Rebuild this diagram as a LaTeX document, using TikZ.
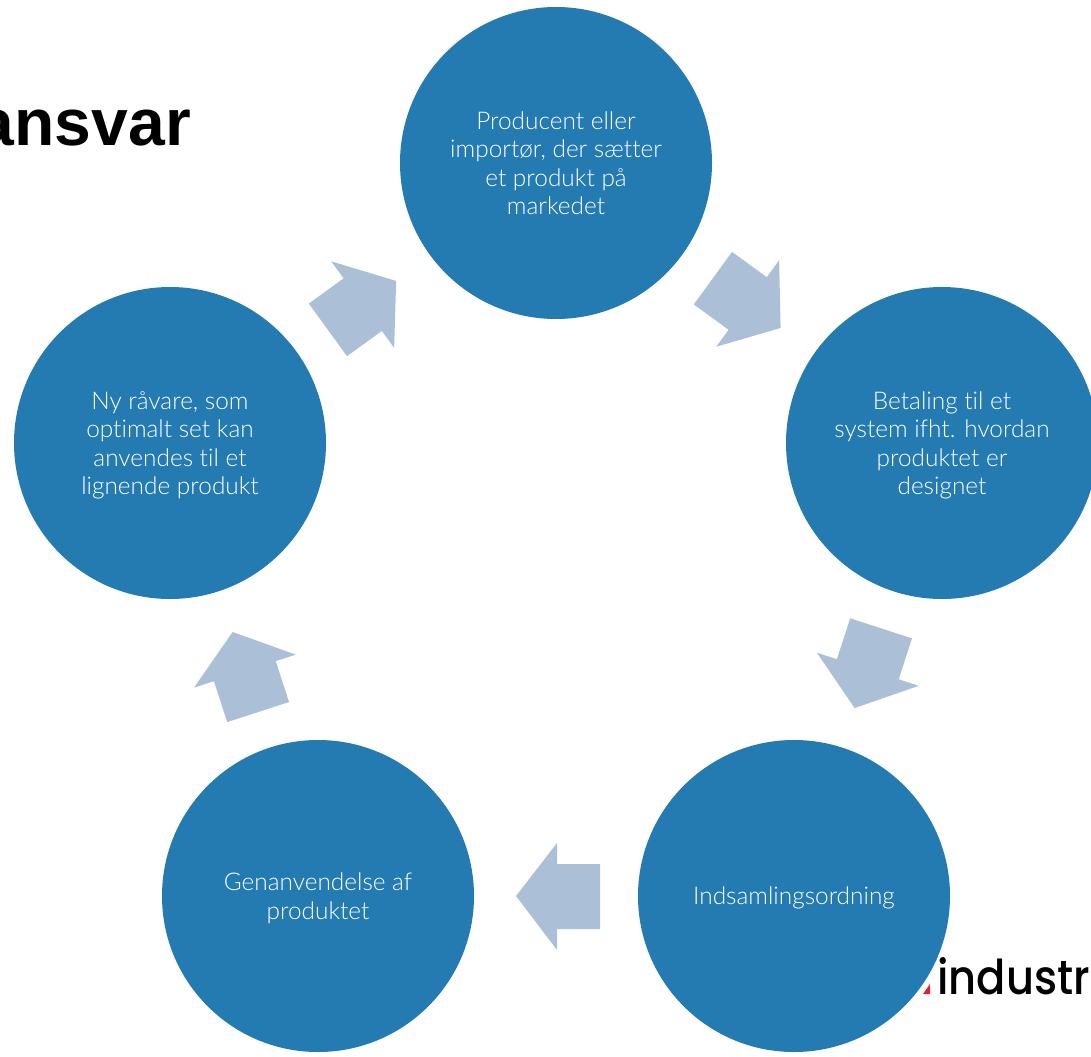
\documentclass[tikz,border=0pt]{standalone}
\usepackage{fontspec}
\setmainfont{Lato Light}[Ligatures=NoCommon]
\newfontfamily\titlefont{Liberation Sans}
\newfontfamily\logofont{Poppins Medium}[FakeStretch=0.9]
\usepackage{tikz}
\usetikzlibrary{positioning}

\definecolor{circleblue}{HTML}{237BB2}
\definecolor{arrowblue}{HTML}{ABC0D7}
\definecolor{logored}{HTML}{E5202E}

\tikzset{
  stage/.style={circle, fill=circleblue, text=white, minimum size=234pt, inner sep=0pt, align=center,
    text depth=0pt, font=\fontsize{18.3}{21.4}\selectfont},
  blockarrow/.style={fill=arrowblue, draw=none}
}

\begin{document}
\begin{tikzpicture}[x=0.75pt, y=-0.75pt]
\useasboundingbox (0,0) rectangle (1091,1056);

% Cut-off heading and logo behind the circles

\node[inner sep=0pt, anchor=base east, font=\titlefont\bfseries\fontsize{49.5}{49.5}\selectfont] (title) at (191,145) {ansvar};
\fill[logored] (923,994) -- (930,984) -- (930,994) -- cycle;
\node[inner sep=0pt, anchor=base west, font=\logofont\fontsize{36}{36}\selectfont] (logo) at (937,994) {industr};

% Five block arrows, one turned copy per gap

\foreach \turn in {0,72,144,216,288}
  \fill[blockarrow, rotate around={\turn:(556,569)}]
    (516,896) -- (557,843) -- (557,864) -- (600,864) -- (600,929) -- (557,929) -- (557,950) -- cycle;

\node[stage] (producent) at (556,163) {Producent eller\\importør, der sætter\\et produkt på\\markedet};
\node[stage] (betaling) at (942,443) {Betaling til et\\system ifht. hvordan\\produktet er\\designet};
\node[stage] (indsamling) at (794,896) {Indsamlingsordning};
\node[stage] (genanvendelse) at (318,896) {Genanvendelse af\\produktet};
\node[stage] (raavare) at (170,443) {Ny råvare, som\\optimalt set kan\\anvendes til et\\lignende produkt};

\end{tikzpicture}
\end{document}
